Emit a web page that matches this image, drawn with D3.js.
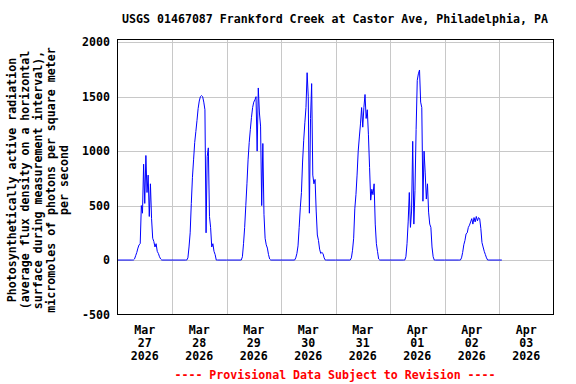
<!DOCTYPE html>
<html>
<head>
<meta charset="utf-8">
<script src="https://cdn.jsdelivr.net/npm/d3@7"></script>
<style>
    body { margin: 0; background: #fff; }
    text { font-family: "DejaVu Sans Mono", "Liberation Mono", monospace; font-weight: bold; font-size: 11.6px; }
</style>
</head>
<body>
<svg id="par-chart"></svg>
<script>
/*--------------------------------------------------------------------------------
----- PAR CHART (USGS photosynthetically active radiation, 30 minute readings)
--------------------------------------------------------------------------------*/

// Daily readings, every 30 minutes from 06:00 to 20:00
const mar27 = [0, 0, 0, 10, 40, 70, 110, 140, 150, 500, 430, 880, 520, 960, 620, 780, 400, 700, 380, 200, 170, 120, 150, 80, 60, 30, 10, 0, 0];
const mar28 = [0, 0, 20, 120, 250, 520, 760, 920, 1080, 1180, 1280, 1390, 1460, 1500, 1510, 1500, 1450, 1380, 250, 950, 1030, 400, 300, 120, 150, 80, 50, 0, 0];
const mar29 = [0, 0, 30, 150, 300, 500, 700, 920, 1080, 1200, 1310, 1400, 1450, 1470, 1500, 1000, 1580, 1350, 1230, 500, 1070, 420, 200, 140, 110, 50, 10, 0, 0];
const mar30 = [0, 20, 60, 130, 300, 480, 620, 900, 1100, 1260, 1400, 1720, 1500, 430, 1300, 1620, 780, 700, 740, 450, 230, 180, 100, 60, 70, 60, 20, 0, 0];
const mar31 = [0, 0, 20, 90, 200, 470, 600, 780, 1000, 1130, 1250, 1400, 1220, 1400, 1520, 1300, 1380, 1150, 850, 550, 650, 600, 700, 330, 150, 80, 10, 0, 0];
const apr01 = [0, 0, 30, 150, 350, 620, 300, 450, 1090, 330, 640, 1200, 1650, 1710, 1745, 1450, 1400, 540, 1000, 800, 560, 700, 440, 330, 300, 120, 30, 0, 0];
const apr02 = [0, 0, 0, 20, 70, 140, 180, 240, 250, 300, 320, 350, 380, 330, 390, 350, 400, 360, 390, 380, 290, 160, 120, 80, 50, 20, 0, 0, 0];

// Days shown and their readings
const day_dates = ["2026-03-27", "2026-03-28", "2026-03-29", "2026-03-30", "2026-03-31", "2026-04-01", "2026-04-02"];
const day_values = [mar27, mar28, mar29, mar30, mar31, apr01, apr02];

// Axis tick labels
const y_ticks = [-500, 0, 500, 1000, 1500, 2000];
const x_label_dates = ["2026-03-27", "2026-03-28", "2026-03-29", "2026-03-30", "2026-03-31", "2026-04-01", "2026-04-02", "2026-04-03"];
const data_end = "2026-04-03T01:15:00Z";

// Function to turn the daily readings into a list of [date, value] points
function init_par_data() {
    const par_ready_dataset = [];
    for (let i = 0; i < day_dates.length; i++) {
        const day_start = new Date(day_dates[i] + "T00:00:00Z");
        // Night before sunrise
        par_ready_dataset.push([day_start, 0]);
        for (let j = 0; j < day_values[i].length; j++) {
            const t = new Date(day_start.getTime() + (6 + j * 0.5) * 3600 * 1000);
            par_ready_dataset.push([t, day_values[i][j]]);
        }
    }
    // Last reading after midnight
    par_ready_dataset.push([new Date(data_end), 0]);
    return par_ready_dataset;
}

let par_data = init_par_data();

// Configure and adjust the dimensions of the chart
const par_width = 576, par_height = 384;
const par_margins = { top: 39.5, right: 22.5, bottom: 69.5, left: 117.5 };

// Create the scales for the X-axis and Y-axis
const par_x_scale = d3.scaleUtc()
    .domain([new Date("2026-03-27T00:00:00Z"), new Date("2026-04-04T00:00:00Z")])
    .range([par_margins.left, par_width - par_margins.right]);
const par_y_scale = d3.scaleLinear()
    .domain([-500, 2025])
    .range([par_height - par_margins.bottom, par_margins.top]);

// Create the chart container
var par_svg = d3.select("#par-chart")
    .attr("width", par_width)
    .attr("height", par_height);

// Title
par_svg.append("text")
    .attr("x", 335)
    .attr("y", 23)
    .attr("text-anchor", "middle")
    .attr("fill", "#000")
    .text("USGS 01467087 Frankford Creek at Castor Ave, Philadelphia, PA");

// Horizontal gridlines
par_svg.append("g")
    .selectAll("line")
    .data(y_ticks.filter(function (d) { return d > -500; }))
    .enter().append("line")
    .attr("x1", par_margins.left)
    .attr("x2", par_width - par_margins.right)
    .attr("y1", function (d) { return Math.round(par_y_scale(d)) + 0.5; })
    .attr("y2", function (d) { return Math.round(par_y_scale(d)) + 0.5; })
    .attr("stroke", "#c8c8c8")
    .attr("stroke-width", 1);

// Vertical gridlines at each midnight
const midnights = d3.utcDay.range(new Date("2026-03-28T00:00:00Z"), new Date("2026-04-04T00:00:00Z"));
par_svg.append("g")
    .selectAll("line")
    .data(midnights)
    .enter().append("line")
    .attr("x1", function (d) { return Math.round(par_x_scale(d)) + 0.5; })
    .attr("x2", function (d) { return Math.round(par_x_scale(d)) + 0.5; })
    .attr("y1", par_margins.top)
    .attr("y2", par_height - par_margins.bottom)
    .attr("stroke", "#c8c8c8")
    .attr("stroke-width", 1);

// Y-axis tick labels
par_svg.append("g")
    .selectAll("text")
    .data(y_ticks)
    .enter().append("text")
    .attr("x", 110)
    .attr("y", function (d) { return par_y_scale(d) + 4; })
    .attr("text-anchor", "end")
    .attr("fill", "#000")
    .text(function (d) { return d; });

// X-axis labels placed at noon of each day
const month_names = ["Jan", "Feb", "Mar", "Apr", "May", "Jun", "Jul", "Aug", "Sep", "Oct", "Nov", "Dec"];
const x_labels = par_svg.append("g")
    .selectAll("text")
    .data(x_label_dates)
    .enter().append("text")
    .attr("text-anchor", "middle")
    .attr("fill", "#000")
    .attr("transform", function (d) {
        return "translate(" + par_x_scale(new Date(d + "T12:00:00Z")) + ",334)";
    });
x_labels.append("tspan").attr("x", 0).attr("dy", 0)
    .text(function (d) { return month_names[+d.slice(5, 7) - 1]; });
x_labels.append("tspan").attr("x", 0).attr("dy", 13)
    .text(function (d) { return d.slice(8, 10); });
x_labels.append("tspan").attr("x", 0).attr("dy", 13)
    .text(function (d) { return d.slice(0, 4); });

// Y-axis title, rotated
const y_title_lines = [
    "Photosynthetically active radiation",
    "(average flux density on a horizontal",
    "surface during measurement interval),",
    "micromoles of photons per square meter",
    "per second"
];
par_svg.append("text")
    .attr("transform", "translate(16,180) rotate(-90)")
    .attr("text-anchor", "middle")
    .attr("fill", "#000")
    .selectAll("tspan")
    .data(y_title_lines)
    .enter().append("tspan")
    .attr("x", 0)
    .attr("dy", function (d, i) { return i === 0 ? 0 : 13; })
    .text(function (d) { return d; });

// Draw the PAR line
par_svg.append("path")
    .datum(par_data)
    .attr("fill", "none")
    .attr("stroke", "#0000ff")
    .attr("stroke-width", 1)
    .attr("stroke-linejoin", "miter")
    .attr("d", d3.line()
        .x(function (d) { return par_x_scale(d[0]); })
        .y(function (d) { return par_y_scale(d[1]); }));

// Plot frame
par_svg.append("rect")
    .attr("x", par_margins.left)
    .attr("y", par_margins.top)
    .attr("width", par_width - par_margins.left - par_margins.right)
    .attr("height", par_height - par_margins.top - par_margins.bottom)
    .attr("fill", "none")
    .attr("stroke", "#000")
    .attr("stroke-width", 1);

// Provisional data footer
par_svg.append("text")
    .attr("x", 335)
    .attr("y", 379)
    .attr("text-anchor", "middle")
    .attr("fill", "#ff0000")
    .text("---- Provisional Data Subject to Revision ----");
</script>
</body>
</html>
